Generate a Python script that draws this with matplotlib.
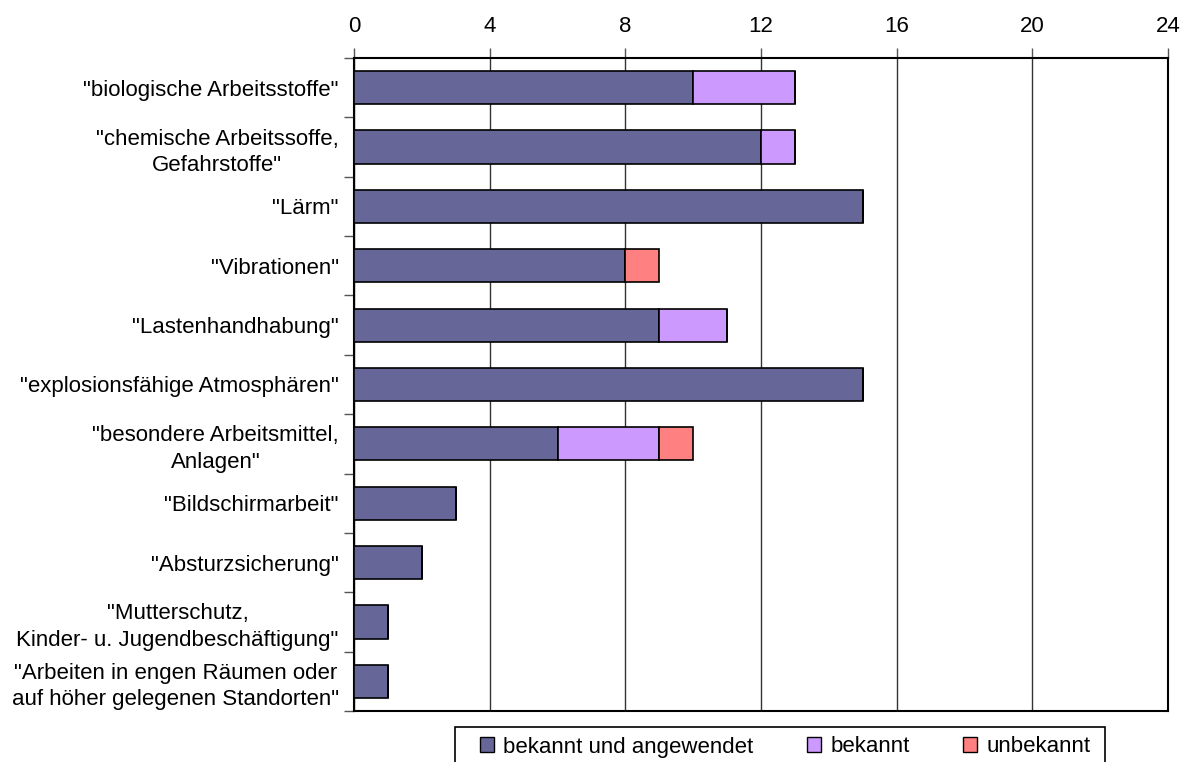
import numpy as np
import matplotlib.pyplot as plt
from matplotlib.patches import Rectangle

plt.rcParams['font.family'] = ['Liberation Sans', 'DejaVu Sans']

categories = ['"biologische Arbeitsstoffe"',
              '"chemische Arbeitssoffe,\nGefahrstoffe"',
              '"Lärm"',
              '"Vibrationen"',
              '"Lastenhandhabung"',
              '"explosionsfähige Atmosphären"',
              '"besondere Arbeitsmittel,\nAnlagen"',
              '"Bildschirmarbeit"',
              '"Absturzsicherung"',
              '"Mutterschutz,\nKinder- u. Jugendbeschäftigung"',
              '"Arbeiten in engen Räumen oder\nauf höher gelegenen Standorten"']
angewendet = [10, 12, 15, 8, 9, 15, 6, 3, 2, 1, 1]
bekannt = [3, 1, 0, 0, 2, 0, 3, 0, 0, 0, 0]
unbekannt = [0, 0, 0, 1, 0, 0, 1, 0, 0, 0, 0]
series = ['bekannt und angewendet', 'bekannt', 'unbekannt']
colors = ['#666699', '#CC99FF', '#FF8080']

fs = 16
W, H = 1189, 762

fig = plt.figure(figsize=(W / 100, H / 100), dpi=100)
ax = fig.add_axes([354 / W, 1 - 711 / H, 814 / W, 653 / H])

y = np.arange(len(categories))
left = np.zeros(len(categories))
for vals, name, col in zip([angewendet, bekannt, unbekannt], series, colors):
    vals = np.array(vals, dtype=float)
    ax.barh(y, vals, left=left, height=0.56, color=col, edgecolor='black',
            linewidth=1.2, label=name, zorder=3)
    left += vals

ax.set_xlim(0, 24)
ax.set_ylim(len(categories) - 0.5, -0.5)
ax.set_xticks(np.arange(0, 25, 4))
ax.xaxis.tick_top()
ax.tick_params(axis='x', direction='out', length=7, width=1, labelsize=fs, pad=8,
               colors='#555555', labelcolor='black')
ax.grid(axis='x', color='#333333', linewidth=1, zorder=1)

ax.set_yticks(y)
ax.set_yticklabels(categories, fontsize=fs, linespacing=1.35)
for lbl in ax.get_yticklabels():
    lbl.set_multialignment('center')
ax.tick_params(axis='y', which='major', length=0, pad=11)
ax.set_yticks(np.arange(-0.5, len(categories), 1), minor=True)
ax.tick_params(axis='y', which='minor', direction='out', length=7, width=1, color='#555555')

for s in ax.spines.values():
    s.set_linewidth(1.5)
    s.set_color('black')

# legend box drawn separately so the horizontal padding can be wider
fig.patches.append(Rectangle((455 / W, 1 - 767 / H), 650 / W, 40 / H,
                             transform=fig.transFigure, facecolor='white',
                             edgecolor='black', linewidth=1.2))
leg = fig.legend(loc='center left', bbox_to_anchor=(480 / W, 1 - 747 / H), ncol=3,
                 fontsize=fs, frameon=False, handlelength=0.65, handleheight=0.65,
                 handletextpad=0.4, columnspacing=2.4, borderpad=0, borderaxespad=0)
for h in leg.legend_handles:
    h.set_linewidth(1)

fig.savefig('out.png', dpi=100)
